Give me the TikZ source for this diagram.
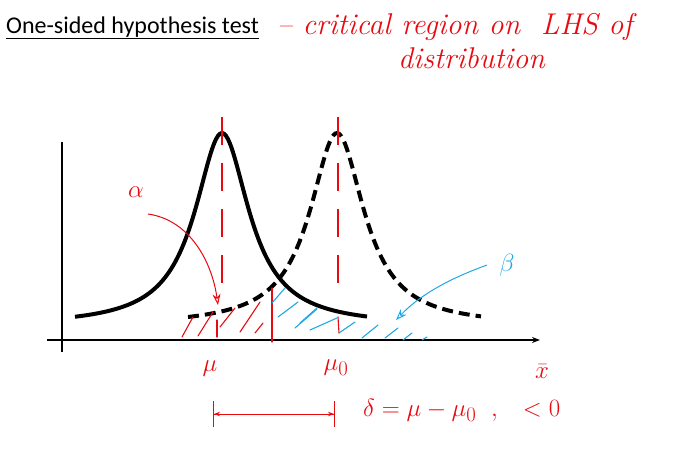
\documentclass[tikz,border=0pt]{standalone}
\usepackage{fontspec}
\setsansfont{Carlito}
\usetikzlibrary{arrows.meta,positioning,calc}
\definecolor{inkred}{RGB}{232,10,16}
\definecolor{inkblue}{RGB}{30,168,226}

\begin{document}
\begin{tikzpicture}[x=1pt,y=-1pt,
      curve/.style={line width=4pt,black},
      dcurve/.style={curve,dash pattern=on 11pt off 6pt},
      axis/.style={line width=1.3pt},
      mline/.style={inkred,line width=1.2pt,dash pattern=on 28pt off 18pt},
      hr/.style={inkred,line width=1.1pt,line cap=round},
      hb/.style={inkblue,line width=1.1pt,line cap=round},
      hand/.style={font=\fontsize{30}{34}\selectfont\itshape,inner sep=0pt},
      arr/.style={-{Stealth[length=11pt,width=8pt,open]},line width=1pt}]
    \useasboundingbox (0,0) rectangle (678,448);
    \node[anchor=base west,inner sep=0pt,font=\sffamily\fontsize{24}{28}\selectfont] (title) at (6,33) {\underline{One-sided hypothesis test}};
    \node[hand,inkred,anchor=base west] (note) at (277,34) {-- critical\ region\ on\ \ LHS\ of};
    \node[hand,inkred,anchor=base west] (note2) at (398,68) {distribution};
    % axes
    \draw[axis] (62,352) -- (62,142);
    \draw[axis,-{Stealth[length=8pt]}] (47,340) -- (540,340);
    % the two curves
    \draw[curve] plot[domain=75:367,samples=150,smooth] (\x,{326-193/(1+((\x-222)/33)^2)});
    \draw[dcurve] plot[domain=188:481,samples=150,smooth] (\x,{326-193/(1+((\x-337)/33)^2)});
    \draw[mline] (222,117) -- (222,300);
    \draw[mline] (338,117) -- (338,294);
    \draw[hr] (272,288) -- (272,342);
    % hatching
    \foreach \a/\b/\c/\d in {182/337/193/317,198/336/213/312,220/327/235/308,240/332/260/302,255/333/263/323,217/320/217/337}
      \draw[hr] (\a,\b) -- (\c,\d);
    \draw[hr] (338,317) -- (339,333);
    \foreach \a/\b/\c/\d in {272/303/285/288,278/317/298/302,295/328/317/309,300/323/317/308,310/330/337/318,339/333/355/322,362/338/378/325,385/338/398/328,403/340/412/333,422/340/427/337}
      \draw[hb] (\a,\b) -- (\c,\d);
    % labels
    \node[hand,inkred] (alpha) at (136,192) {$\alpha$};
    \node[hand,inkblue] (beta) at (507,265) {$\beta$};
    \coordinate (atip) at (218,305);
    \coordinate (btip) at (396,320);
    \draw[arr,inkred] ($(alpha)+(12,22)$) .. controls (190,220) and (212,262) .. (atip);
    \draw[arr,inkblue] ($(beta)+(-20,0)$) .. controls (440,282) and (415,300) .. (btip);
    \node[hand,inkred] (mu) at (210,369) {$\mu$};
    \node[hand,inkred] (muzero) at (336,368) {$\mu_0$};
    \node[hand,inkred] (xbar) at (542,372) {$\bar{x}$};
    \coordinate (dl) at (213,414);
    \coordinate (dr) at (335,414);
    \draw[inkred,line width=1pt,{Bar[width=26pt]Stealth[length=6pt]}-{Stealth[length=6pt]Bar[width=26pt]}] (dl) -- (dr);
    \node[hand,inkred,anchor=west] (delta) at (363,410) {$\delta=\mu-\mu_0\ \,,\ \ <0$};
  \end{tikzpicture}
\end{document}
